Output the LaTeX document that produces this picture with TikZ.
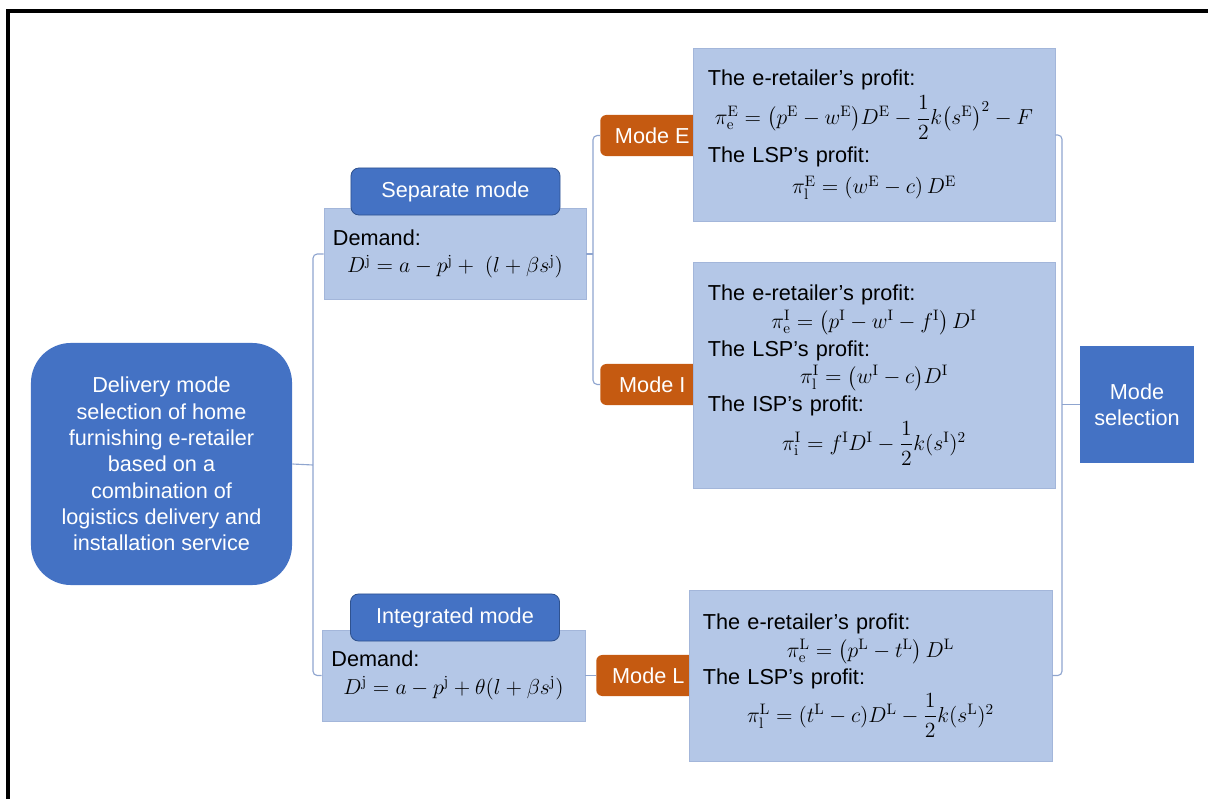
\documentclass[tikz,border=0pt]{standalone}
\usepackage{fix-cm}
\usepackage[no-math]{fontspec}
\setmainfont{Liberation Sans}
\usepackage{amsmath}

\definecolor{boxblue}{HTML}{4472C4}
\definecolor{paleblue}{HTML}{B4C7E7}
\definecolor{modeorange}{HTML}{C55A11}
\definecolor{tabedge}{HTML}{2F528F}
\definecolor{paleedge}{HTML}{A3B6DA}
\definecolor{linkblue}{HTML}{8FA5CF}

\newcommand{\boxhead}[1]{\makebox[\linewidth][l]{#1}}
\newcommand{\boxmath}[1]{\makebox[\linewidth]{$#1$}}

\begin{document}
\begin{tikzpicture}[x=0.025cm, y=-0.025cm,
    every node/.style={font=\fontsize{15.4}{18.7}\selectfont, inner sep=0pt},
    topicbox/.style={fill=boxblue, text=white, align=center},
    titletab/.style={fill=boxblue, draw=tabedge, line width=0.6pt, text=white,
        rounded corners=0.2cm, minimum width=5.225cm, minimum height=1.175cm},
    modetab/.style={fill=modeorange, text=white, rounded corners=0.15cm,
        minimum width=2.6cm, minimum height=1.025cm, anchor=west},
    infobox/.style={fill=paleblue, draw=paleedge, line width=0.5pt, align=center},
    link/.style={draw=linkblue, line width=0.8pt, rounded corners=3pt}]

    \useasboundingbox (0,0) rectangle (1208,799);

    % 1. Marco
    \draw[line width=2.2pt] (8,799) -- (8,11) -- (1208,11);

    % 2. Tema central
    \node[topicbox, rounded corners=1cm, minimum width=6.525cm, minimum height=6.05cm]
        (topic) at (161.5,464) {Delivery mode\\ selection of home\\ furnishing e-retailer\\
        based on a\\ combination of\\ logistics delivery and\\ installation service};

    % 3. Modo separado y modo integrado
    \node[infobox, minimum width=6.55cm, minimum height=2.275cm, text width=6.1cm]
        (sepbox) at (455,254) {\boxhead{Demand:}\\[1pt]
        \boxmath{D^{\mathrm{j}} = a - p^{\mathrm{j}} +\; (l + \beta s^{\mathrm{j}})}};
    \node[titletab] (septitle) at (455.5,191.5) {Separate mode};

    \node[infobox, minimum width=6.575cm, minimum height=2.275cm, text width=6.1cm]
        (intbox) at (453.5,675.5) {\boxhead{Demand:}\\[1pt]
        \boxmath{D^{\mathrm{j}} = a - p^{\mathrm{j}} + \theta(l + \beta s^{\mathrm{j}})}};
    \node[titletab] (inttitle) at (455,617.5) {Integrated mode};

    % 4. Pestanas de modo (detras de las cajas)
    \node[modetab] (modeE) at (600,135.5) {Mode E};
    \node[modetab] (modeI) at (600,384.5) {Mode I};
    \node[modetab] (modeL) at (596,675.5) {Mode L};

    % 5. Beneficios
    \node[infobox, minimum width=9.05cm, minimum height=4.325cm, text width=8.3cm]
        (ebox) at (874,135) {\boxhead{The e-retailer's profit:}\\[3pt]
        \boxmath{\pi^{\mathrm{E}}_{\mathrm{e}} = \bigl(p^{\mathrm{E}} - w^{\mathrm{E}}\bigr)D^{\mathrm{E}}
            - \dfrac{1}{2}k\bigl(s^{\mathrm{E}}\bigr)^2 - F}\\[4pt]
        \boxhead{The LSP's profit:}\\[4pt]
        \boxmath{\pi^{\mathrm{E}}_{\mathrm{l}} = (w^{\mathrm{E}} - c)\, D^{\mathrm{E}}}};

    \node[infobox, minimum width=9.05cm, minimum height=5.65cm, text width=8.3cm]
        (ibox) at (874,375) {\boxhead{The e-retailer's profit:}\\[1pt]
        \boxmath{\pi^{\mathrm{I}}_{\mathrm{e}} = \bigl(p^{\mathrm{I}} - w^{\mathrm{I}} - f^{\mathrm{I}}\bigr)\, D^{\mathrm{I}}}\\[1pt]
        \boxhead{The LSP's profit:}\\[1pt]
        \boxmath{\pi^{\mathrm{I}}_{\mathrm{l}} = \bigl(w^{\mathrm{I}} - c\bigr)D^{\mathrm{I}}}\\[1pt]
        \boxhead{The ISP's profit:}\\[3pt]
        \boxmath{\pi^{\mathrm{I}}_{\mathrm{i}} = f^{\mathrm{I}}D^{\mathrm{I}} - \dfrac{1}{2}k(s^{\mathrm{I}})^2}};

    \node[infobox, minimum width=9.075cm, minimum height=4.275cm, text width=8.375cm]
        (lbox) at (870.5,675.5) {\boxhead{The e-retailer's profit:}\\[1pt]
        \boxmath{\pi^{\mathrm{L}}_{\mathrm{e}} = \bigl(p^{\mathrm{L}} - t^{\mathrm{L}}\bigr)\, D^{\mathrm{L}}}\\[1pt]
        \boxhead{The LSP's profit:}\\[2pt]
        \boxmath{\pi^{\mathrm{L}}_{\mathrm{l}} = (t^{\mathrm{L}} - c)D^{\mathrm{L}} - \dfrac{1}{2}k(s^{\mathrm{L}})^2}};

    % 6. Seleccion de modo
    \node[topicbox, minimum width=2.85cm, minimum height=2.925cm]
        (modesel) at (1137,404.5) {Mode\\ selection};

    % 7. Conectores
    \coordinate (forkA) at (313,465);
    \draw[link] (topic.east) -- (forkA);
    \draw[link] (sepbox.west) -| (forkA) |- (intbox.west);

    \coordinate (forkB) at (593,258);
    \draw[link] (sepbox.east) -- (sepbox.east -| forkB);
    \draw[link] (modeE.west) -| (forkB) |- (modeI.west);
    \draw[link] (intbox.east) -- (modeL.west);

    \coordinate (forkC) at (1062,404.5);
    \draw[link] (ebox.east) -| (forkC) |- (lbox.east);
    \draw[link] (forkC) -- (modesel.west);

\end{tikzpicture}
\end{document}
